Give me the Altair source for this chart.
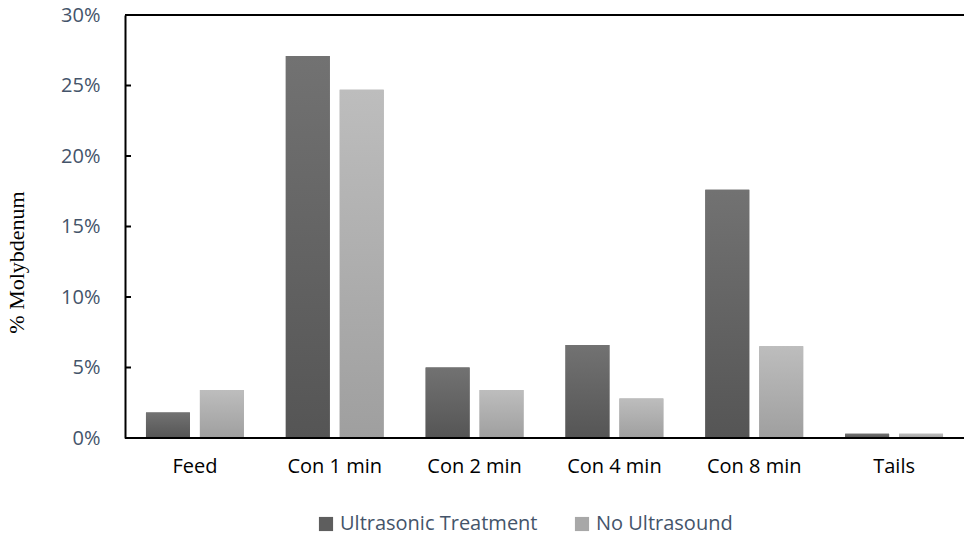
import altair as alt
import pandas as pd

categories = ["Feed", "Con 1 min", "Con 2 min", "Con 4 min", "Con 8 min", "Tails"]
series_names = ["Ultrasonic Treatment", "No Ultrasound"]
ultrasonic = [0.018, 0.271, 0.050, 0.066, 0.176, 0.003]
no_ultrasound = [0.034, 0.247, 0.034, 0.028, 0.065, 0.003]
y_ticks = [0.0, 0.05, 0.10, 0.15, 0.20, 0.25, 0.30]

rows = []
for cat, a, b in zip(categories, ultrasonic, no_ultrasound):
    rows.append({"cat": cat, "series": series_names[0], "value": a})
    rows.append({"cat": cat, "series": series_names[1], "value": b})
df = pd.DataFrame(rows)
ticks_df = pd.DataFrame({"t": y_ticks})

LABEL_BLUE = "#44546a"
FONT = "Open Sans"

x_enc = alt.X(
    "cat:N",
    sort=categories,
    scale=alt.Scale(paddingInner=0.3, paddingOuter=0.15),
    axis=alt.Axis(
        title=None, labelAngle=0, ticks=False, domain=False,
        labelFont=FONT, labelFontSize=20, labelColor="#000000",
        labelPadding=18,
    ),
)
xoff_enc = alt.XOffset(
    "series:N", sort=series_names,
    scale=alt.Scale(paddingInner=0.185, paddingOuter=0),
)
y_scale = alt.Scale(domain=[0, 0.30], nice=False)

# solid base bars carry the legend
base = alt.Chart(df).mark_bar().encode(
    x=x_enc,
    xOffset=xoff_enc,
    y=alt.Y(
        "value:Q", scale=y_scale,
        axis=alt.Axis(
            values=y_ticks, format=".0%", title="% Molybdenum",
            titleFont="Liberation Serif", titleFontSize=22,
            titleFontWeight="normal", titleColor="#000000",
            titleX=-97, titleY=247, titleAngle=-90,
            labelFont=FONT, labelFontSize=20, labelColor=LABEL_BLUE,
            labelPadding=25, ticks=False, grid=False,
            domainColor="#000000", domainWidth=2,
        ),
    ),
    color=alt.Color(
        "series:N", sort=series_names,
        scale=alt.Scale(domain=series_names, range=["#5e5e5e", "#a8a8a8"]),
        legend=alt.Legend(
            title=None, orient="none", direction="horizontal",
            legendX=191, legendY=499,
            symbolType="square", symbolSize=200, symbolStrokeWidth=0,
            labelFont=FONT, labelFontSize=20, labelColor=LABEL_BLUE,
            labelLimit=400, labelOffset=4, columnPadding=34, padding=0,
        ),
    ),
)

def gradient(top, bottom):
    return alt.Gradient(
        gradient="linear",
        stops=[alt.GradientStop(color=top, offset=0),
               alt.GradientStop(color=bottom, offset=1)],
        x1=0, x2=0, y1=0, y2=1,
    )

# gradient shading drawn over each series
grad_dark = alt.Chart(df).transform_filter(
    alt.datum.series == series_names[0]
).mark_bar(color=gradient("#727272", "#555555")).encode(
    x=x_enc, xOffset=xoff_enc, y=alt.Y("value:Q", scale=y_scale)
)
grad_light = alt.Chart(df).transform_filter(
    alt.datum.series == series_names[1]
).mark_bar(color=gradient("#bdbdbd", "#9f9f9f")).encode(
    x=x_enc, xOffset=xoff_enc, y=alt.Y("value:Q", scale=y_scale)
)

# inward tick marks on the value axis
tick_marks = alt.Chart(ticks_df).mark_rule(color="#000000", strokeWidth=2).encode(
    y=alt.Y("t:Q", scale=y_scale),
    x=alt.value(0), x2=alt.value(6),
)

# frame lines: baseline and top edge
baseline = alt.Chart(ticks_df).transform_filter(alt.datum.t == 0).mark_rule(
    color="#000000", strokeWidth=2
).encode(y=alt.Y("t:Q", scale=y_scale), x=alt.value(0), x2=alt.value(845))
topline = alt.Chart(ticks_df).transform_filter(alt.datum.t == 0.30).mark_rule(
    color="#000000", strokeWidth=2
).encode(y=alt.Y("t:Q", scale=y_scale), x=alt.value(0), x2=alt.value(845))

chart = alt.layer(base, grad_dark, grad_light, tick_marks, baseline, topline).properties(
    width=839, height=423,
    autosize=alt.AutoSizeParams(type="none"),
    padding={"left": 125, "top": 15, "right": 0, "bottom": 100},
).configure_view(stroke=None).configure(background="#ffffff")

chart.save("out.html", embed_options={"renderer": "svg", "actions": False})
